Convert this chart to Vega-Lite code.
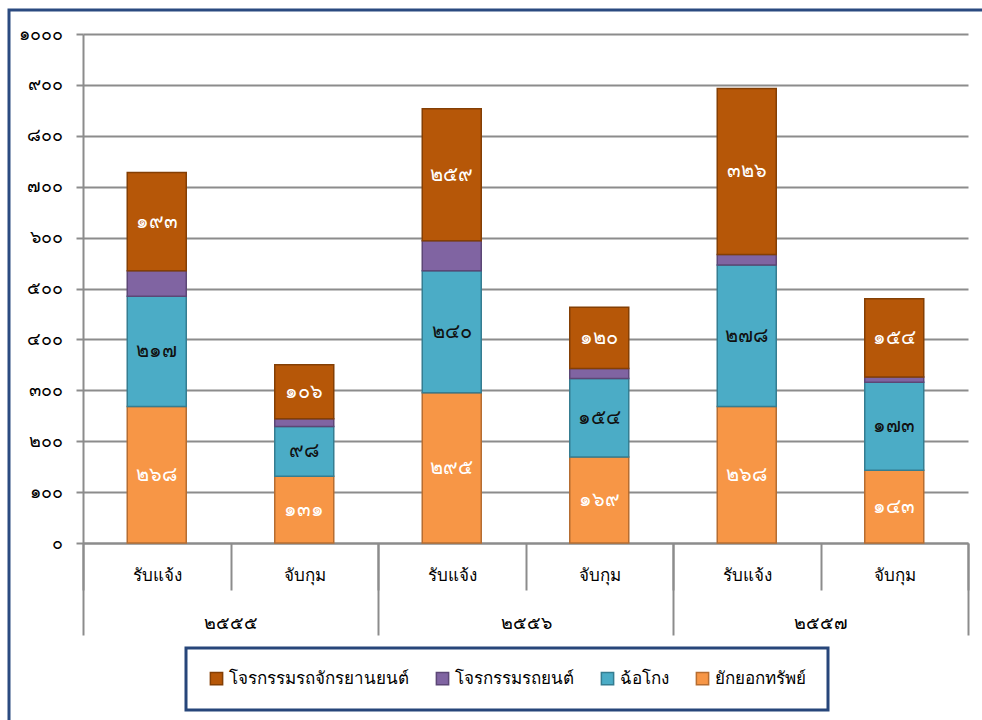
{
  "$schema": "https://vega.github.io/schema/vega-lite/v6.json",
  "width": 885,
  "height": 509,
  "autosize": "none",
  "padding": {"left": 83, "top": 34, "right": 14, "bottom": 177},
  "background": "white",
  "config": {
    "font": "Noto Sans",
    "view": {"stroke": null},
    "legend": {"strokeWidth": 3}
  },
  "data": {
    "values": [
      {"year": "2555", "type": "รับแจ้ง", "series": "ยักยอกทรัพย์", "value": 268},
      {"year": "2555", "type": "รับแจ้ง", "series": "ฉ้อโกง", "value": 217},
      {"year": "2555", "type": "รับแจ้ง", "series": "โจรกรรมรถยนต์", "value": 50},
      {"year": "2555", "type": "รับแจ้ง", "series": "โจรกรรมรถจักรยานยนต์", "value": 193},
      {"year": "2555", "type": "จับกุม", "series": "ยักยอกทรัพย์", "value": 131},
      {"year": "2555", "type": "จับกุม", "series": "ฉ้อโกง", "value": 98},
      {"year": "2555", "type": "จับกุม", "series": "โจรกรรมรถยนต์", "value": 15},
      {"year": "2555", "type": "จับกุม", "series": "โจรกรรมรถจักรยานยนต์", "value": 106},
      {"year": "2556", "type": "รับแจ้ง", "series": "ยักยอกทรัพย์", "value": 295},
      {"year": "2556", "type": "รับแจ้ง", "series": "ฉ้อโกง", "value": 240},
      {"year": "2556", "type": "รับแจ้ง", "series": "โจรกรรมรถยนต์", "value": 59},
      {"year": "2556", "type": "รับแจ้ง", "series": "โจรกรรมรถจักรยานยนต์", "value": 259},
      {"year": "2556", "type": "จับกุม", "series": "ยักยอกทรัพย์", "value": 169},
      {"year": "2556", "type": "จับกุม", "series": "ฉ้อโกง", "value": 154},
      {"year": "2556", "type": "จับกุม", "series": "โจรกรรมรถยนต์", "value": 20},
      {"year": "2556", "type": "จับกุม", "series": "โจรกรรมรถจักรยานยนต์", "value": 120},
      {"year": "2557", "type": "รับแจ้ง", "series": "ยักยอกทรัพย์", "value": 268},
      {"year": "2557", "type": "รับแจ้ง", "series": "ฉ้อโกง", "value": 278},
      {"year": "2557", "type": "รับแจ้ง", "series": "โจรกรรมรถยนต์", "value": 21},
      {"year": "2557", "type": "รับแจ้ง", "series": "โจรกรรมรถจักรยานยนต์", "value": 326},
      {"year": "2557", "type": "จับกุม", "series": "ยักยอกทรัพย์", "value": 143},
      {"year": "2557", "type": "จับกุม", "series": "ฉ้อโกง", "value": 173},
      {"year": "2557", "type": "จับกุม", "series": "โจรกรรมรถยนต์", "value": 10},
      {"year": "2557", "type": "จับกุม", "series": "โจรกรรมรถจักรยานยนต์", "value": 154}
    ]
  },
  "transform": [
    {"calculate": "datum.year + '|' + datum.type", "as": "cat"},
    {"calculate": "indexof(['ยักยอกทรัพย์','ฉ้อโกง','โจรกรรมรถยนต์','โจรกรรมรถจักรยานยนต์'], datum.series)", "as": "ord"},
    {"stack": "value", "groupby": ["cat"], "sort": [{"field": "ord", "order": "ascending"}], "as": ["v0", "v1"]},
    {"calculate": "(datum.v0 + datum.v1) / 2", "as": "mid"},
    {"calculate": "replace(replace(replace(replace(replace(replace(replace(replace(replace(replace(toString(datum.value),regexp('0','g'),'๐'),regexp('1','g'),'๑'),regexp('2','g'),'๒'),regexp('3','g'),'๓'),regexp('4','g'),'๔'),regexp('5','g'),'๕'),regexp('6','g'),'๖'),regexp('7','g'),'๗'),regexp('8','g'),'๘'),regexp('9','g'),'๙')", "as": "lbl"}
  ],
  "layer": [
    {
      "encoding": {
        "x": {
          "field": "cat",
          "type": "nominal",
          "sort": ["2555|รับแจ้ง", "2555|จับกุม", "2556|รับแจ้ง", "2556|จับกุม", "2557|รับแจ้ง", "2557|จับกุม"],
          "scale": {"paddingInner": 0, "paddingOuter": 0},
          "axis": {
            "title": null,
            "domainColor": "#8c8c8c",
            "domainWidth": 2,
            "tickBand": "extent",
            "tickSize": 47,
            "tickColor": "#8c8c8c",
            "tickWidth": 2,
            "labelPadding": -15,
            "labelBaseline": "middle",
            "labelFontSize": 17,
            "labelAngle": 0,
            "labelColor": "#000000",
            "labelExpr": "split(datum.label, '|')[1]"
          }
        },
        "y": {
          "type": "quantitative",
          "scale": {"domain": [0, 1000], "nice": false},
          "axis": {
            "title": null,
            "values": [0, 100, 200, 300, 400, 500, 600, 700, 800, 900, 1000],
            "labelExpr": "replace(replace(replace(replace(replace(replace(replace(replace(replace(replace(toString(datum.value),regexp('0','g'),'๐'),regexp('1','g'),'๑'),regexp('2','g'),'๒'),regexp('3','g'),'๓'),regexp('4','g'),'๔'),regexp('5','g'),'๕'),regexp('6','g'),'๖'),regexp('7','g'),'๗'),regexp('8','g'),'๘'),regexp('9','g'),'๙')",
            "tickSize": 7,
            "tickColor": "#8c8c8c",
            "tickWidth": 2,
            "domainColor": "#8c8c8c",
            "domainWidth": 2,
            "gridColor": "#8c8c8c",
            "gridWidth": 2,
            "labelPadding": 14,
            "labelFontSize": 18,
            "labelColor": "#000000"
          }
        }
      },
      "layer": [
        {
          "mark": {"type": "bar", "width": {"band": 0.4}, "strokeWidth": 1.5},
          "encoding": {
            "y": {"field": "v1"},
            "y2": {"field": "v0"},
            "color": {
              "field": "series",
              "type": "nominal",
              "scale": {
                "domain": ["โจรกรรมรถจักรยานยนต์", "โจรกรรมรถยนต์", "ฉ้อโกง", "ยักยอกทรัพย์"],
                "range": ["#B65708", "#8064A2", "#4BACC6", "#F79646"]
              },
              "legend": {
                "orient": "none",
                "legendX": 103,
                "legendY": 614,
                "direction": "horizontal",
                "title": null,
                "symbolType": "square",
                "symbolSize": 150,
                "symbolStrokeWidth": 1.5,
                "labelFontSize": 17,
                "labelLimit": 400,
                "labelColor": "#000000",
                "labelOffset": 4,
                "columnPadding": 24,
                "padding": 22,
                "strokeColor": "#27467A",
                "fillColor": "#ffffff"
              }
            },
            "stroke": {
              "field": "series",
              "type": "nominal",
              "scale": {
                "domain": ["โจรกรรมรถจักรยานยนต์", "โจรกรรมรถยนต์", "ฉ้อโกง", "ยักยอกทรัพย์"],
                "range": ["#843F04", "#5C4776", "#357D91", "#B66D31"]
              },
              "legend": {
                "orient": "none",
                "legendX": 103,
                "legendY": 614,
                "direction": "horizontal",
                "title": null,
                "symbolType": "square",
                "symbolSize": 150,
                "symbolStrokeWidth": 1.5,
                "labelFontSize": 17,
                "labelLimit": 400,
                "labelColor": "#000000",
                "labelOffset": 4,
                "columnPadding": 24,
                "padding": 22,
                "strokeColor": "#27467A",
                "fillColor": "#ffffff"
              }
            }
          }
        },
        {
          "transform": [{"filter": "datum.series !== 'โจรกรรมรถยนต์'"}],
          "mark": {"type": "text", "fontSize": 20, "baseline": "middle", "fontWeight": "normal"},
          "encoding": {
            "y": {"field": "mid"},
            "text": {"field": "lbl"},
            "color": {
              "condition": {"test": "datum.series === 'ฉ้อโกง'", "value": "#111111"},
              "value": "#ffffff"
            }
          }
        }
      ]
    },
    {
      "mark": {"type": "point", "opacity": 0},
      "encoding": {
        "x": {
          "field": "year",
          "type": "nominal",
          "scale": {"paddingInner": 0, "paddingOuter": 0},
          "axis": {
            "orient": "bottom",
            "title": null,
            "domain": false,
            "grid": false,
            "tickBand": "extent",
            "tickSize": 92,
            "tickColor": "#8c8c8c",
            "tickWidth": 2,
            "labelPadding": -12,
            "labelBaseline": "middle",
            "labelFontSize": 18,
            "labelAngle": 0,
            "labelColor": "#000000",
            "labelExpr": "replace(replace(replace(replace(replace(replace(replace(replace(replace(replace(datum.label,regexp('0','g'),'๐'),regexp('1','g'),'๑'),regexp('2','g'),'๒'),regexp('3','g'),'๓'),regexp('4','g'),'๔'),regexp('5','g'),'๕'),regexp('6','g'),'๖'),regexp('7','g'),'๗'),regexp('8','g'),'๘'),regexp('9','g'),'๙')"
          }
        },
        "shape": {
          "datum": "frame",
          "legend": {
            "orient": "none",
            "legendX": -74,
            "legendY": -24,
            "title": null,
            "padding": 600,
            "symbolSize": 160000,
            "symbolOpacity": 0,
            "symbolStrokeWidth": 0,
            "labelExpr": "''",
            "strokeColor": "#2B4A80",
            "zindex": 0
          }
        }
      }
    }
  ],
  "resolve": {"scale": {"x": "independent"}}
}
